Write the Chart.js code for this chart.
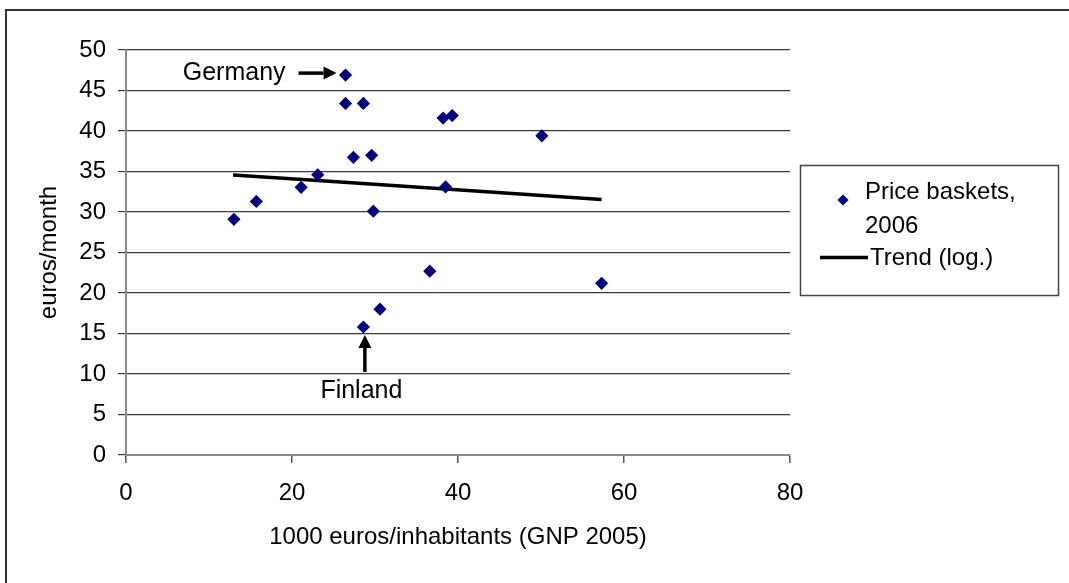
<!DOCTYPE html>
<html>
<head>
<meta charset="utf-8">
<script src="https://cdn.jsdelivr.net/npm/chart.js@4.4.1/dist/chart.umd.min.js"></script>
<style>
  html, body { margin: 0; padding: 0; background: #fff; overflow: hidden; }
  #wrap { position: absolute; left: 0; top: 0; width: 1069px; height: 583px; }
  #frame { position: absolute; left: 5px; top: 9px; width: 1100px; height: 620px; border: 2px solid #333; pointer-events: none; }
</style>
</head>
<body>
<div id="frame"></div>
<div id="wrap"><canvas id="wykres"></canvas></div>
<script>
// GNP 2005 (1000 euros / inhabitant) vs price basket (euros / month)
const gnp = [13.0, 15.7, 21.1, 23.1, 26.45, 26.45, 27.4, 28.6, 28.6, 29.6, 29.8, 30.6, 36.6, 38.2, 38.5, 39.3, 50.1, 57.3];
const price = [29.1, 31.3, 33.05, 34.6, 46.9, 43.4, 36.75, 43.4, 15.8, 37.0, 30.1, 18.0, 22.7, 41.6, 33.1, 41.9, 39.4, 21.2];

// trend line
const trendX = [12.9, 23.1, 38.5, 57.3];
const trendY = [34.57, 33.9, 32.84, 31.55];

const yTicks = [0, 5, 10, 15, 20, 25, 30, 35, 40, 45, 50];
const xTicks = [0, 20, 40, 60, 80];

const seriesLabel = ['Price baskets,', '2006'];
const trendLabel = 'Trend (log.)';
const notes = [{ idx: 4, text: 'Germany', dir: 'left' }, { idx: 8, text: 'Finland', dir: 'down' }];

const FONT = '"Liberation Sans", Arial, sans-serif';
const NAVY = '#000080';

function arrow(ctx, x1, y1, x2, y2) {
  // shaft from (x1,y1) to the tip (x2,y2)
  const ang = Math.atan2(y2 - y1, x2 - x1);
  const head = 13, half = 6.5;
  const bx = x2 - Math.cos(ang) * head, by = y2 - Math.sin(ang) * head;
  ctx.save();
  ctx.strokeStyle = '#000';
  ctx.fillStyle = '#000';
  ctx.lineWidth = 3.5;
  ctx.beginPath();
  ctx.moveTo(x1, y1);
  ctx.lineTo(bx, by);
  ctx.stroke();
  ctx.beginPath();
  ctx.moveTo(x2, y2);
  ctx.lineTo(bx - Math.sin(ang) * half, by + Math.cos(ang) * half);
  ctx.lineTo(bx + Math.sin(ang) * half, by - Math.cos(ang) * half);
  ctx.closePath();
  ctx.fill();
  ctx.restore();
}

const extras = {
  id: 'extras',
  afterDraw(chart) {
    const ctx = chart.ctx;
    const xs = chart.scales.x, ys = chart.scales.y;

    // annotations
    ctx.save();
    ctx.font = '25px ' + FONT;
    ctx.fillStyle = '#000';
    notes.forEach(n => {
      const px = xs.getPixelForValue(gnp[n.idx]);
      const py = ys.getPixelForValue(price[n.idx]);
      if (n.dir === 'left') {
        const tipX = px - 9, tailX = tipX - 38;
        arrow(ctx, tailX, py - 2, tipX, py - 2);
        ctx.textAlign = 'right';
        ctx.textBaseline = 'alphabetic';
        ctx.fillText(n.text, tailX - 13, py + 5);
      } else {
        const tipY = py + 8, tailY = tipY + 37;
        arrow(ctx, px + 1.5, tailY, px + 1.5, tipY);
        ctx.textAlign = 'center';
        ctx.textBaseline = 'alphabetic';
        ctx.fillText(n.text, px - 2, tailY + 26);
      }
    });
    ctx.restore();

    // legend box
    ctx.save();
    ctx.strokeStyle = '#444';
    ctx.lineWidth = 1.5;
    ctx.strokeRect(800.5, 165.5, 258, 130);
    ctx.fillStyle = NAVY;
    ctx.beginPath();
    const lx = 843, ly = 200, r = 5.6;
    ctx.moveTo(lx - r, ly); ctx.lineTo(lx, ly - r); ctx.lineTo(lx + r, ly); ctx.lineTo(lx, ly + r);
    ctx.closePath();
    ctx.fill();
    ctx.strokeStyle = '#000';
    ctx.lineWidth = 3.5;
    ctx.beginPath();
    ctx.moveTo(820, 257.5); ctx.lineTo(868, 257.5);
    ctx.stroke();
    ctx.fillStyle = '#000';
    ctx.font = '24px ' + FONT;
    ctx.textAlign = 'left';
    ctx.textBaseline = 'alphabetic';
    ctx.fillText(seriesLabel[0], 865, 199);
    ctx.fillText(seriesLabel[1], 865, 232.5);
    ctx.fillText(trendLabel, 870, 265);
    ctx.restore();
  }
};

const ctx = document.getElementById('wykres').getContext('2d');
new Chart(ctx, {
  type: 'scatter',
  data: {
    datasets: [
      {
        label: seriesLabel.join(' '),
        data: gnp.map((g, i) => ({ x: g, y: price[i] })),
        pointStyle: 'rectRot',
        pointRadius: 6.6,
        pointHoverRadius: 6.6,
        backgroundColor: NAVY,
        borderColor: NAVY,
        borderWidth: 0,
        order: 1,
      },
      {
        label: trendLabel,
        type: 'line',
        data: trendX.map((t, i) => ({ x: t, y: trendY[i] })),
        showLine: true,
        borderColor: '#000',
        borderWidth: 3.5,
        pointRadius: 0,
        fill: false,
        tension: 0,
        order: 2,
      },
    ],
  },
  options: {
    responsive: true,
    maintainAspectRatio: false,
    animation: false,
    layout: { padding: { top: 50, right: 279, left: 0, bottom: 0 } },
    plugins: { legend: { display: false }, tooltip: { enabled: false } },
    scales: {
      x: {
        type: 'linear',
        min: 0,
        max: 80,
        afterBuildTicks: s => { s.ticks = xTicks.map(v => ({ value: v })); },
        afterFit: s => { s.height = 128; },
        grid: { drawOnChartArea: false, drawTicks: true, tickLength: 8, color: '#555', lineWidth: 1.5 },
        border: { color: '#888', width: 2 },
        ticks: { color: '#000', font: { family: FONT, size: 24 }, padding: 16, maxRotation: 0 },
        title: { display: true, text: '1000 euros/inhabitants (GNP 2005)', color: '#000', font: { family: FONT, size: 24 }, padding: { top: 0, bottom: 31 } },
      },
      y: {
        type: 'linear',
        min: 0,
        max: 50,
        afterBuildTicks: s => { s.ticks = yTicks.map(v => ({ value: v })); },
        afterFit: s => { s.width = 126; },
        grid: { drawOnChartArea: true, drawTicks: true, tickLength: 8, color: '#3a3a3a', lineWidth: 1.2 },
        border: { color: '#888', width: 2 },
        ticks: { color: '#000', font: { family: FONT, size: 24 }, padding: 12 },
        title: { display: true, text: 'euros/month', color: '#000', font: { family: FONT, size: 24 }, padding: { top: 35, bottom: 0 } },
      },
    },
  },
  plugins: [extras],
});
</script>
</body>
</html>
